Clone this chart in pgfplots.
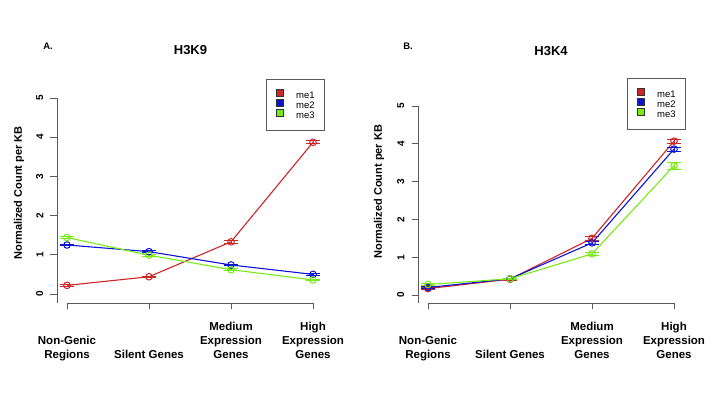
\documentclass[border=0pt]{standalone}
\usepackage{pgfplots}
\usepackage{pgfplotstable}
\pgfplotsset{compat=1.18}
\usepackage{fontspec}
\setmainfont{Liberation Sans}
\definecolor{c1}{RGB}{205,38,38}
\definecolor{c2}{RGB}{10,20,210}
\definecolor{c3}{RGB}{118,235,20}
\definecolor{axc}{RGB}{90,90,90}

\pgfplotstableread{
x me1 e1 me2 e2 me3 e3
1 0.22 0.02 1.25 0.02 1.44 0.02
2 0.44 0.02 1.08 0.02 0.99 0.02
3 1.33 0.03 0.74 0.02 0.62 0.02
4 3.87 0.04 0.50 0.02 0.36 0.02
}\tabA
\pgfplotstableread{
x me1 e1 me2 e2 me3 e3
1 0.17 0.02 0.20 0.02 0.28 0.02
2 0.42 0.02 0.43 0.02 0.43 0.02
3 1.50 0.05 1.38 0.04 1.09 0.05
4 4.07 0.05 3.86 0.05 3.42 0.09
}\tabB

\pgfplotsset{
  sqlegend/.style={legend image code/.code={\draw[##1,draw=black!80,line width=0.5pt] (0pt,0.3pt) rectangle (6.4pt,6.7pt);}},
  rstyle/.style={
    scale only axis,
    width=256pt,
    axis x line=bottom, axis y line=left,
    axis line style={-, draw=axc, line width=0.8pt},
    x axis line style={shorten <=10pt},
    xmin=0.878, xmax=4,
    ytick={0,1,2,3,4,5}, ymax=5,
    xtick={1,2,3,4},
    xticklabels={{Non-Genic\\Regions\strut},{Silent Genes\strut},{Medium\\Expression\\Genes\strut},{High\\Expression\\Genes\strut}},
    tick align=outside,
    major tick length=6.5pt,
    tick style={draw=axc, line width=0.8pt},
    xticklabel style={align=center, anchor=south, inner sep=0pt, yshift=-53.5pt, font=\bfseries\fontsize{11.5}{14.2}\selectfont},
    yticklabel style={rotate=90, anchor=south, inner sep=0pt, yshift=7pt, font=\bfseries\fontsize{10}{12}\selectfont},
    /pgf/number format/assume math mode=true,
    clip=false,
    legend cell align=left,
    legend style={anchor=north west, draw=axc, line width=0.6pt, inner xsep=10pt, inner ysep=10pt,
      column sep=13pt, row sep=-1pt, nodes={inner sep=0pt, font=\fontsize{9.5}{10}\selectfont}},
    every axis plot/.append style={line width=1.1pt, mark=o, mark size=3.3pt, mark options={line width=1pt, solid}},
    error bars/error bar style={line width=0.8pt},
    error bars/error mark options={rotate=90, mark size=7pt, line width=0.8pt},
  }
}

\begin{document}
\begin{tikzpicture}[x=1pt,y=1pt]
\useasboundingbox (0,0) rectangle (720,417);

% Panel A
\begin{axis}[rstyle, at={(57pt,114pt)}, anchor=south west, height=205pt, ymin=-0.23,
  legend style={at={(0.816,1.0927)}}]
\addplot[forget plot, c1, error bars/.cd, y dir=both, y explicit] table[x=x, y=me1, y error=e1] {\tabA};
\addplot[forget plot, c2, error bars/.cd, y dir=both, y explicit] table[x=x, y=me2, y error=e2] {\tabA};
\addplot[forget plot, c3, error bars/.cd, y dir=both, y explicit] table[x=x, y=me3, y error=e3] {\tabA};
\addlegendimage{sqlegend, fill=c1}\addlegendentry{me1}
\addlegendimage{sqlegend, fill=c2}\addlegendentry{me2}
\addlegendimage{sqlegend, fill=c3}\addlegendentry{me3}
\end{axis}

% Panel B
\begin{axis}[rstyle, at={(418pt,114pt)}, anchor=south west, height=197pt, ymin=-0.21,
  legend style={at={(0.816,1.142)}}]
\addplot[forget plot, c1, error bars/.cd, y dir=both, y explicit] table[x=x, y=me1, y error=e1] {\tabB};
\addplot[forget plot, c2, error bars/.cd, y dir=both, y explicit] table[x=x, y=me2, y error=e2] {\tabB};
\addplot[forget plot, c3, error bars/.cd, y dir=both, y explicit] table[x=x, y=me3, y error=e3] {\tabB};
\addlegendimage{sqlegend, fill=c1}\addlegendentry{me1}
\addlegendimage{sqlegend, fill=c2}\addlegendentry{me2}
\addlegendimage{sqlegend, fill=c3}\addlegendentry{me3}
\end{axis}

\node[rotate=90, font=\bfseries\fontsize{11}{13}\selectfont] at (19,224) {Normalized Count per KB};
\node[rotate=90, font=\bfseries\fontsize{11}{13}\selectfont] at (379,225.5) {Normalized Count per KB};
\node[font=\bfseries\fontsize{13}{15}\selectfont] at (190.5,366.5) {H3K9};
\node[font=\bfseries\fontsize{13}{15}\selectfont] at (551,366) {H3K4};
\node[font=\bfseries\fontsize{9.5}{11}\selectfont] at (48,370.5) {A.};
\node[font=\bfseries\fontsize{9.5}{11}\selectfont] at (408,370.5) {B.};
\end{tikzpicture}
\end{document}
